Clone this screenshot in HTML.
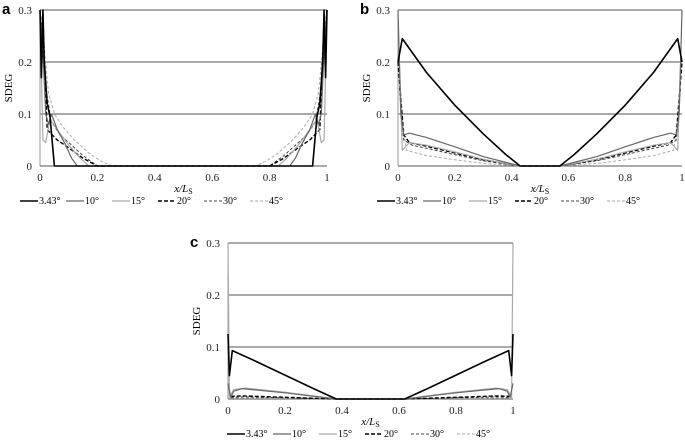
<!DOCTYPE html>
<html><head><meta charset="utf-8"><style>
body{margin:0;background:#fff;}
svg{display:block;font-family:"Liberation Serif",serif;}
</style></head><body>
<svg id="chart" width="685" height="441" viewBox="0 0 685 441" xmlns="http://www.w3.org/2000/svg"></svg>
<script>
const xTicks=[0,0.2,0.4,0.6,0.8,1];
const xTickLabels=["0","0.2","0.4","0.6","0.8","1"];
const yTicks=[0,0.1,0.2,0.3];
const yTickLabels=["0","0.1","0.2","0.3"];
const seriesNames=["3.43°","10°","15°","20°","30°","45°"];
// left-half points [x,y]; mirrored about x=0.5
const panelA=[
 [[0,0.3],[0.005,0.17],[0.01,0.3],[0.015,0.2],[0.025,0.12],[0.035,0.095],[0.05,0],[0.5,0]],
 [[0,0.3],[0.012,0.2],[0.02,0.1],[0.03,0.08],[0.04,0.1],[0.06,0.07],[0.09,0.04],[0.11,0.015],[0.13,0],[0.5,0]],
 [[0,0.3],[0.01,0.05],[0.02,0.045],[0.035,0.09],[0.06,0.07],[0.1,0.04],[0.14,0.015],[0.17,0],[0.5,0]],
 [[0,0.3],[0.015,0.2],[0.025,0.07],[0.06,0.05],[0.1,0.035],[0.15,0.015],[0.2,0],[0.5,0]],
 [[0.01,0.3],[0.02,0.15],[0.04,0.085],[0.07,0.06],[0.11,0.04],[0.15,0.02],[0.2,0],[0.5,0]],
 [[0.01,0.25],[0.03,0.14],[0.05,0.1],[0.08,0.075],[0.12,0.05],[0.17,0.025],[0.21,0.01],[0.25,0],[0.5,0]]
];
const panelB=[
 [[0,0.2],[0.015,0.245],[0.1,0.18],[0.2,0.117],[0.3,0.062],[0.38,0.022],[0.43,0],[0.5,0]],
 [[0,0.3],[0.01,0.1],[0.02,0.06],[0.04,0.063],[0.1,0.055],[0.2,0.037],[0.3,0.018],[0.43,0],[0.5,0]],
 [[0.005,0.2],[0.015,0.03],[0.04,0.045],[0.1,0.04],[0.2,0.027],[0.3,0.013],[0.43,0],[0.5,0]],
 [[0,0.2],[0.02,0.06],[0.04,0.045],[0.1,0.038],[0.2,0.025],[0.3,0.012],[0.43,0],[0.5,0]],
 [[0.005,0.15],[0.02,0.05],[0.05,0.04],[0.1,0.034],[0.2,0.022],[0.3,0.01],[0.43,0],[0.5,0]],
 [[0.01,0.1],[0.03,0.03],[0.1,0.02],[0.2,0.012],[0.3,0.005],[0.43,0],[0.5,0]]
];
const panelC=[
 [[0,0.125],[0.005,0.045],[0.015,0.093],[0.1,0.072],[0.2,0.046],[0.3,0.02],[0.38,0],[0.5,0]],
 [[0,0.03],[0.01,0.003],[0.02,0.015],[0.05,0.02],[0.2,0.012],[0.38,0],[0.5,0]],
 [[0,0.3],[0.005,0.003],[0.02,0.018],[0.06,0.021],[0.2,0.013],[0.38,0],[0.5,0]],
 [[0.01,0.005],[0.05,0.006],[0.38,0],[0.5,0]],
 [[0.01,0.003],[0.05,0.004],[0.38,0],[0.5,0]],
 [[0.01,0.002],[0.38,0],[0.5,0]]
];
const styles=[
 {c:"#000",w:1.6,d:""},{c:"#666",w:1.2,d:""},{c:"#aaa",w:1.2,d:""},
 {c:"#000",w:1.4,d:"4,2"},{c:"#444",w:1,d:"3,2"},{c:"#aaa",w:1,d:"3,2"}
];
const NS="http://www.w3.org/2000/svg";
const svg=document.getElementById('chart');
function mk(t,a,p){const e=document.createElementNS(NS,t);for(const k in a)e.setAttribute(k,a[k]);(p||svg).appendChild(e);return e;}
function panel(id,label,x0,x1,yTop,yBot,data,legX){
 const g=mk('g',{});
 
 
 const sx=v=>x0+v*(x1-x0), sy=v=>yBot-v/0.3*(yBot-yTop);
 yTicks.forEach((t,i)=>{
  if(t>0){const l=mk('line',{x1:x0,x2:x1,y1:sy(t),y2:sy(t),stroke:"#555","stroke-width":1},g);
  }
  const tx=mk('text',{x:x0-8,y:sy(t)+4,"font-size":11,"text-anchor":"end",fill:"#222"},g);tx.textContent=yTickLabels[i];
  
 });
 mk('line',{x1:x0,x2:x0,y1:yTop,y2:yBot,stroke:"#999","stroke-width":1},g);
 mk('line',{x1:x0,x2:x1,y1:yBot,y2:yBot,stroke:"#555","stroke-width":1},g);
 xTicks.forEach((t,i)=>{
  const tx=mk('text',{x:sx(t),y:yBot+15,"font-size":11,"text-anchor":"middle",fill:"#222"},g);tx.textContent=xTickLabels[i];
  
 });
 const xt=mk('text',{x:(x0+x1)/2,y:yBot+26,"font-size":11,"text-anchor":"middle","font-style":"italic"},g);
 xt.innerHTML='x/L<tspan font-size="8" font-style="normal" dy="2">S</tspan>';
 
 const yt=mk('text',{x:0,y:0,"font-size":11,"text-anchor":"middle",transform:`translate(${x0-28},${(yTop+yBot)/2}) rotate(-90)`},g);
 yt.textContent="SDEG";
 const pl=mk('text',{x:x0-38,y:yTop+4,"font-size":15,"font-weight":"bold","font-family":"Liberation Sans, sans-serif"},g);
 pl.textContent=label;
 for(let s=data.length-1;s>=0;s--){
  const pts=data[s];const full=pts.concat(pts.slice().reverse().map(p=>[1-p[0],p[1]]));
  const d=full.map((p,i)=>(i?'L':'M')+sx(p[0]).toFixed(1)+','+sy(p[1]).toFixed(1)).join('');
  const st=styles[s];
  const path=mk('path',{d:d,fill:"none",stroke:st.c,"stroke-width":st.w,"stroke-dasharray":st.d,"stroke-linejoin":"round"},g);
  
  
 }
 const ly=yBot+38;
 seriesNames.forEach((n,i)=>{
  const lx=legX+i*46;const st=styles[i];
  const lg=mk('g',{},g);
  mk('line',{x1:lx,x2:lx+18,y1:ly-3,y2:ly-3,stroke:st.c,"stroke-width":st.w,"stroke-dasharray":st.d},lg);
  const t=mk('text',{x:lx+19,y:ly,"font-size":10},lg);t.textContent=n;
 });
}
panel('a','a',40,327,10,166,panelA,20);
panel('b','b',398,682,10,166,panelB,377);
panel('c','c',228,513,243,399,panelC,227);
</script>
</body></html>
